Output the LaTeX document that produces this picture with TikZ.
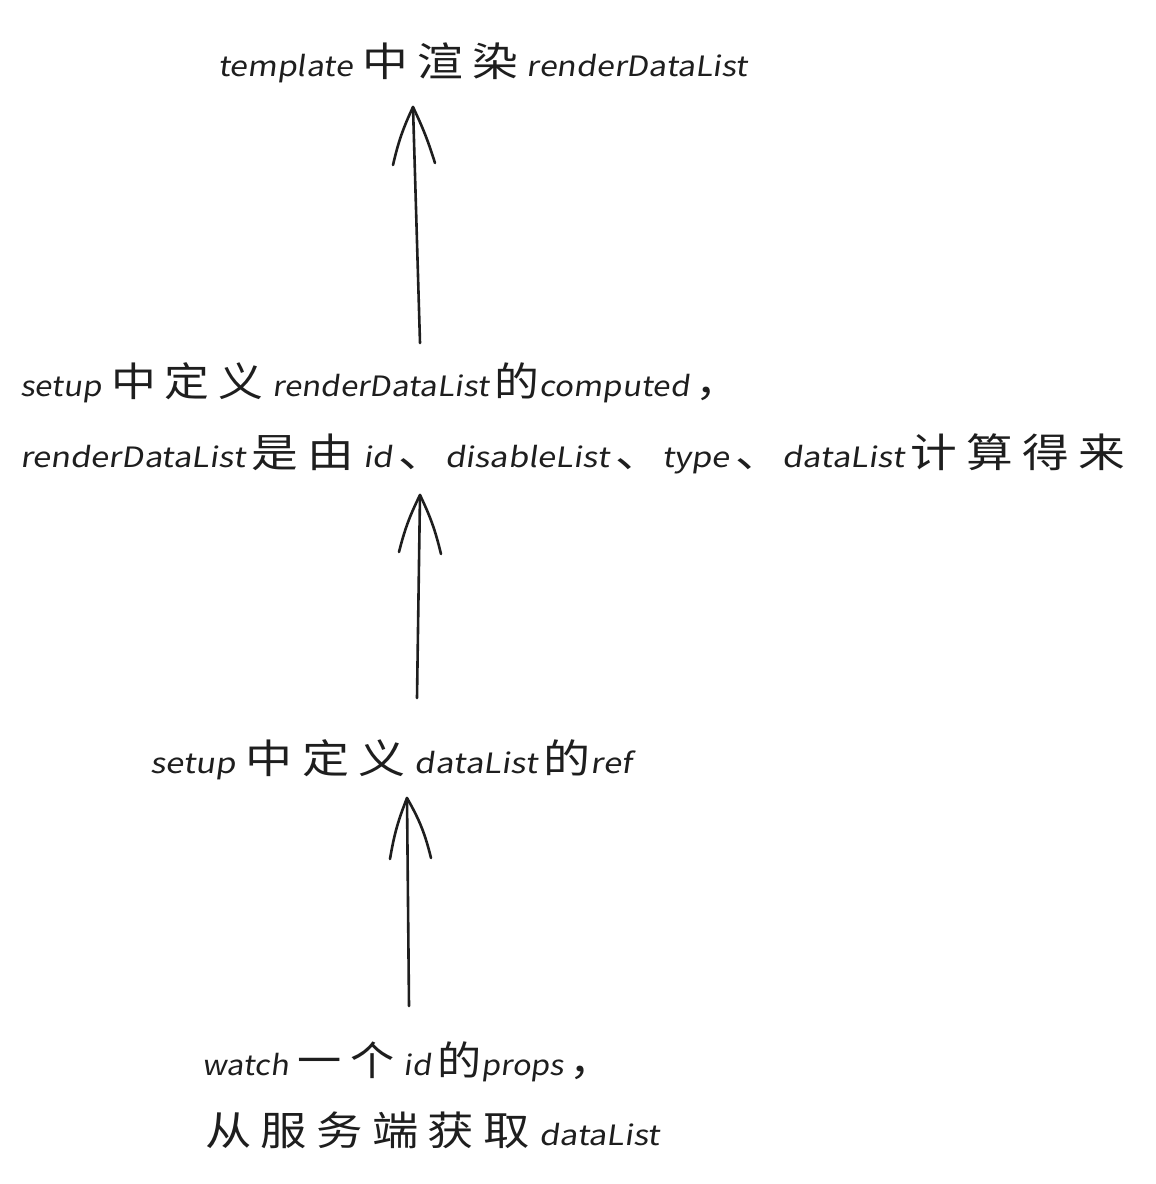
\documentclass[tikz,border=0pt]{standalone}
\usepackage{fontspec}
\setmainfont{Noto Sans CJK SC}
\newfontfamily\latf[FakeSlant=0.12]{Noto Sans CJK SC}
\newcommand\zh[1]{{\fontsize{40pt}{40pt}\selectfont #1}}
\newcommand\la[1]{{\latf\fontsize{28pt}{28pt}\selectfont #1}}
\newcommand\gp{\hspace{8pt}}
\newcommand\sg{\hspace{5pt}}
\begin{document}
\begin{tikzpicture}[x=1pt,y=-1pt,
  lbl/.style={inner sep=0pt,outer sep=0pt,anchor=base west,text=ink},
  shaft/.style={draw=ink,line width=2.6pt,line cap=round},
  barb/.style={draw=ink,line width=2.6pt,line cap=round,line join=round}]
\definecolor{ink}{HTML}{1E1E1E}
\useasboundingbox (0,0) rectangle (1156,1184);
% texts
\node[lbl] (t1) at (218,76) {\resizebox{530pt}{\height}{\la{template}\gp\zh{中\gp 渲\gp 染}\gp\la{renderDataList}}};
\node[lbl] (t2a) at (20,396) {\resizebox{720pt}{\height}{\la{setup}\gp\zh{中\gp 定\gp 义}\gp\la{renderDataList}\sg\zh{的}\la{computed}\sg\zh{，}}};
\node[lbl] (t2b) at (20,467) {\resizebox{1105pt}{\height}{\la{renderDataList}\sg\zh{是\gp 由}\gp\la{id}\sg\zh{、}\la{disableList}\sg\zh{、}\la{type}\sg\zh{、}\la{dataList}\sg\zh{计\gp 算\gp 得\gp 来}}};
\node[lbl] (t3) at (150,773) {\resizebox{482pt}{\height}{\la{setup}\gp\zh{中\gp 定\gp 义}\gp\la{dataList}\sg\zh{的}\la{ref}}};
\node[lbl] (t4a) at (202,1075) {\resizebox{412pt}{\height}{\la{watch}\gp\zh{一\gp 个}\gp\la{id}\sg\zh{的}\la{props}\sg\zh{，}}};
\node[lbl] (t4b) at (205,1145) {\resizebox{455pt}{\height}{\zh{从\gp 服\gp 务\gp 端\gp 获\gp 取}\gp\la{dataList}}};
% arrow 1
\coordinate (a1s) at (420,343);
\coordinate (a1t) at (413,107);
\coordinate (a1l) at (393,165);
\coordinate (a1r) at (435,163);
\draw[shaft] (a1s) -- (a1t);
\draw[barb] (a1l) to[bend left=6] (a1t) to[bend left=4] (a1r);
% arrow 2
\coordinate (a2s) at (417,698);
\coordinate (a2t) at (420,495);
\coordinate (a2l) at (399,552);
\coordinate (a2r) at (441,554);
\draw[shaft] (a2s) -- (a2t);
\draw[barb] (a2l) to[bend left=6] (a2t) to[bend left=6] (a2r);
% arrow 3
\coordinate (a3s) at (409,1006);
\coordinate (a3t) at (407,798);
\coordinate (a3l) at (390,859);
\coordinate (a3r) at (431,858);
\draw[shaft] (a3s) -- (a3t);
\draw[barb] (a3l) to[bend left=6] (a3t) to[bend left=8] (a3r);
\end{tikzpicture}
\end{document}
